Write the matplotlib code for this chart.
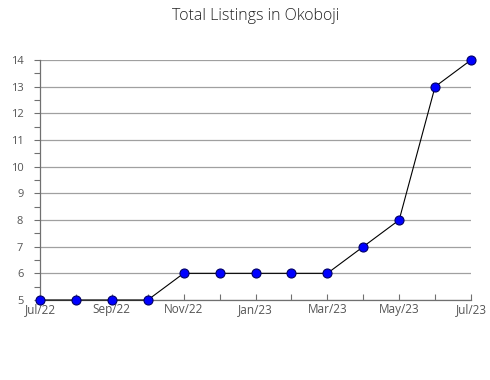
import matplotlib
matplotlib.use('Agg')
import matplotlib.pyplot as plt
import numpy as np

plt.rcParams['font.family'] = ['Open Sans', 'DejaVu Sans']

months = ['Jul/22', 'Aug/22', 'Sep/22', 'Oct/22', 'Nov/22', 'Dec/22', 'Jan/23',
          'Feb/23', 'Mar/23', 'Apr/23', 'May/23', 'Jun/23', 'Jul/23']
listings = [5, 5, 5, 5, 6, 6, 6, 6, 6, 7, 8, 13, 14]

x = np.arange(len(months))

fig = plt.figure(figsize=(4.9, 3.8), dpi=100)
ax = fig.add_axes([40/490, 80/380, 431/490, 240/380])

ax.plot(x, listings, color='black', linewidth=0.8, marker='o', markersize=6.5,
        markerfacecolor='#0000ff', markeredgecolor='#000066', markeredgewidth=0.8,
        zorder=3, clip_on=False)

ax.set_xlim(0, 12)
ax.set_ylim(5, 14)
ax.set_xticks(x)
ax.set_xticklabels([m if i % 2 == 0 else '' for i, m in enumerate(months)])
ax.set_yticks(np.arange(5, 15, 1))
ax.set_yticks(np.arange(5.5, 14, 1), minor=True)

ax.grid(axis='y', which='major', color='#a0a0a0', linewidth=0.9)
ax.set_axisbelow(True)
for s in ['top', 'right']:
    ax.spines[s].set_visible(False)
for s in ['left', 'bottom']:
    ax.spines[s].set_color('#707070')
    ax.spines[s].set_linewidth(0.9)

ax.tick_params(axis='both', which='both', colors='#707070', labelcolor='#555555',
               labelsize=8, length=4, width=0.8)
ax.tick_params(axis='x', direction='in', pad=2, labelsize=8.5)
ax.tick_params(axis='y', pad=8)

ax.set_title('Total Listings in Okoboji', fontsize=11.5, color='#222222',
             fontweight='light', pad=29)

fig.savefig('out.png', dpi=100)
